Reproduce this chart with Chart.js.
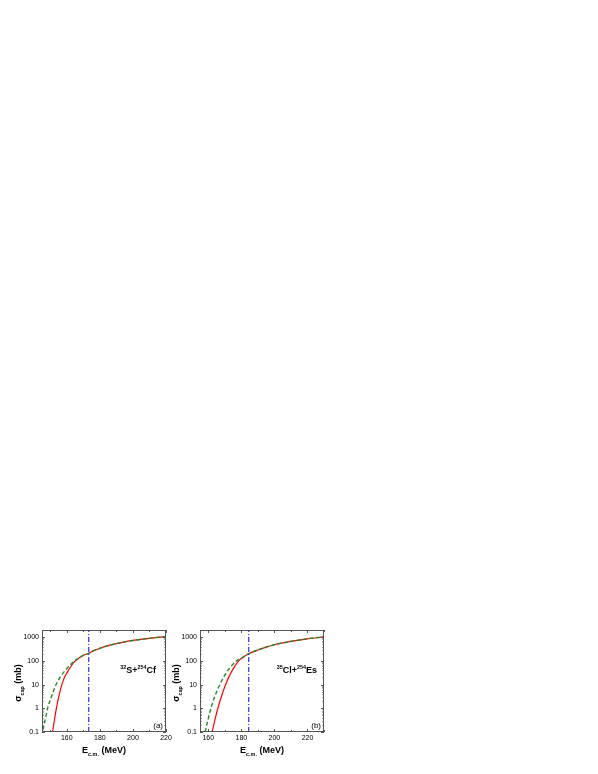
<!DOCTYPE html>
<html>
<head>
  <title>Capture cross sections</title>
  <script src="https://cdn.jsdelivr.net/npm/chart.js"></script>
  <style>
    body { margin: 0; background: #fff; }
    .panel { position: absolute; }
  </style>
</head>
<body>
  <div class="panel" style="left:0px; top:600px;"><canvas id="chartA" width="180" height="174"></canvas></div>
  <div class="panel" style="left:158px; top:600px;"><canvas id="chartB" width="180" height="174"></canvas></div>

  <script>
    // ---- data ----
    // panel (a) 32S+254Cf
    var redEA   = [151.4, 152.5, 153.7, 155.2, 156, 157, 158, 159.2, 161.5, 164, 166, 168, 170, 173.3, 176, 180, 185, 190, 195, 200, 210, 220];
    var redSigA = [0.1, 0.32, 1, 3.2, 5.6, 10, 15.8, 24, 46, 83, 110, 141, 170, 209, 263, 339, 437, 537, 631, 724, 891, 1047];
    var greenEA   = [145.6, 147, 148.4, 150.5, 153.5, 156.5, 160, 164, 166, 168, 170, 173.3, 176, 180, 185, 190, 195, 200, 210, 220];
    var greenSigA = [0.126, 0.35, 1, 2.8, 10, 23, 47, 89, 115, 141, 170, 209, 263, 339, 437, 537, 631, 724, 891, 1047];
    var barrierA = 173.3;

    // panel (b) 35Cl+254Es
    var redEB   = [162.3, 164, 165.8, 168, 170.5, 173, 175.5, 178, 180, 182, 184.5, 190, 195, 200, 210, 220, 230];
    var redSigB = [0.1, 0.32, 1, 3.2, 10, 25, 52, 93, 126, 158, 200, 288, 380, 479, 661, 851, 1023];
    var greenEB   = [158.1, 159.8, 161.6, 164, 167, 170, 173, 176.4, 178, 180, 182, 184.5, 190, 195, 200, 210, 220, 230];
    var greenSigB = [0.1, 0.32, 1, 3.2, 10, 25, 50, 91, 110, 126, 158, 200, 288, 380, 479, 661, 851, 1023];
    var barrierB = 184.5;

    var xTicksA = [160, 180, 200, 220];
    var xTicksB = [160, 180, 200, 220];
    var yTicks = [0.1, 1, 10, 100, 1000];
    var yLabels = ['0.1', '1', '10', '100', '1000'];

    var FONT = '"Liberation Sans", Arial, sans-serif';

    function toPoints(xs, ys) {
      return xs.map(function (x, i) { return { x: x, y: ys[i] }; });
    }

    // draw text made of normal / sub / sup pieces
    function richWidth(ctx, parts, size, weight) {
      var w = 0;
      parts.forEach(function (p) {
        var s = p.sub || p.sup ? size * 0.6 : size;
        ctx.font = weight + ' ' + s + 'px ' + FONT;
        w += ctx.measureText(p.t).width;
      });
      return w;
    }
    function drawRich(ctx, parts, x, y, size, weight, align) {
      var w = richWidth(ctx, parts, size, weight);
      var cx = align === 'right' ? x - w : (align === 'center' ? x - w / 2 : x);
      ctx.textBaseline = 'alphabetic';
      ctx.textAlign = 'left';
      parts.forEach(function (p) {
        var s = p.sub || p.sup ? size * 0.6 : size;
        var dy = p.sub ? size * 0.3 : (p.sup ? -size * 0.4 : 0);
        ctx.font = weight + ' ' + s + 'px ' + FONT;
        ctx.fillText(p.t, cx, y + dy);
        cx += ctx.measureText(p.t).width;
      });
    }

    // frame with inward ticks on all four sides + axis titles + labels
    var framePlugin = {
      id: 'framePlugin',
      afterDatasetsDraw: function (chart, args, opts) {
        var ctx = chart.ctx, a = chart.chartArea;
        var xs = chart.scales.x, ys = chart.scales.y;
        ctx.save();
        ctx.strokeStyle = '#555';
        ctx.lineWidth = 1;
        ctx.strokeRect(Math.round(a.left) + 0.5, Math.round(a.top) + 0.5, Math.round(a.width) - 1, Math.round(a.height) - 1);

        ctx.beginPath();
        for (var v = Math.ceil(xs.min / 10) * 10; v <= xs.max; v += 10) {
          var px = Math.round(xs.getPixelForValue(v)) + 0.5;
          var len = v % 20 === 0 ? 3 : 2;
          ctx.moveTo(px, a.bottom); ctx.lineTo(px, a.bottom - len);
          ctx.moveTo(px, a.top); ctx.lineTo(px, a.top + len);
        }
        for (var d = 0.1; d <= 1000; d *= 10) {
          for (var m = 1; m <= 9; m++) {
            var val = d * m;
            if (val < ys.min || val > ys.max) continue;
            var py = Math.round(ys.getPixelForValue(val)) + 0.5;
            var l = m === 1 ? 3 : 1.5;
            ctx.moveTo(a.left, py); ctx.lineTo(a.left + l, py);
            ctx.moveTo(a.right, py); ctx.lineTo(a.right - l, py);
          }
        }
        ctx.stroke();

        ctx.fillStyle = '#000';
        // x title
        drawRich(ctx, [{ t: 'E' }, { t: 'c.m.', sub: true }, { t: ' (MeV)' }], (a.left + a.right) / 2, a.bottom + 21, 9, 'bold', 'center');
        // y title
        ctx.save();
        ctx.translate(a.left - 21, (a.top + a.bottom) / 2 + 2);
        ctx.rotate(-Math.PI / 2);
        drawRich(ctx, [{ t: 'σ' }, { t: 'cap', sub: true }, { t: ' (mb)' }], 0, 0, 9, 'bold', 'center');
        ctx.restore();
        // reaction label
        drawRich(ctx, opts.reaction, a.right - opts.labelInset, a.top + 43, 9, 'bold', 'right');
        // panel tag
        drawRich(ctx, [{ t: opts.tag }], a.right - 3, a.bottom - 4, 8, 'normal', 'right');
        ctx.restore();
      }
    };

    function makeChart(id, redE, redSig, greenE, greenSig, barrier, xMin, xMax, xTicks, reaction, tag, inset) {
      var ctx = document.getElementById(id).getContext('2d');
      return new Chart(ctx, {
        type: 'line',
        data: {
          datasets: [{
            data: toPoints([barrier, barrier], [0.1, 2000]),
            borderColor: '#0000ff',
            borderWidth: 1,
            borderDash: [5, 2, 1, 2],
            pointRadius: 0
          }, {
            data: toPoints(greenE, greenSig),
            borderColor: '#238b23',
            borderWidth: 1.4,
            borderDash: [4, 2.5],
            pointRadius: 0,
            cubicInterpolationMode: 'monotone'
          }, {
            data: toPoints(redE, redSig),
            borderColor: '#ff0000',
            borderWidth: 1.2,
            pointRadius: 0,
            cubicInterpolationMode: 'monotone'
          }]
        },
        options: {
          responsive: false,
          animation: false,
          devicePixelRatio: 1,
          layout: { padding: { top: 30, right: 14, left: 0, bottom: 0 } },
          plugins: {
            legend: { display: false },
            tooltip: { enabled: false },
            framePlugin: { reaction: reaction, tag: tag, labelInset: inset }
          },
          scales: {
            x: {
              type: 'linear',
              min: xMin,
              max: xMax,
              grid: { display: false, drawTicks: false, tickLength: 0 },
              border: { display: false },
              afterBuildTicks: function (scale) {
                scale.ticks = xTicks.map(function (v) { return { value: v }; });
              },
              afterFit: function (scale) { scale.height = 42; },
              ticks: {
                padding: 2,
                maxRotation: 0,
                color: '#000',
                font: { family: FONT, size: 7 }
              }
            },
            y: {
              type: 'logarithmic',
              min: 0.1,
              max: 2000,
              grid: { display: false, drawTicks: false, tickLength: 0 },
              border: { display: false },
              afterBuildTicks: function (scale) {
                scale.ticks = yTicks.map(function (v) { return { value: v }; });
              },
              afterFit: function (scale) { scale.width = 42; },
              ticks: {
                padding: 3,
                color: '#000',
                font: { family: FONT, size: 7 },
                callback: function (value) {
                  var i = yTicks.indexOf(value);
                  return i >= 0 ? yLabels[i] : '';
                }
              }
            }
          }
        },
        plugins: [framePlugin]
      });
    }

    makeChart('chartA', redEA, redSigA, greenEA, greenSigA, barrierA, 145, 220, xTicksA,
      [{ t: '32', sup: true }, { t: 'S+' }, { t: '254', sup: true }, { t: 'Cf' }], '(a)', 10);
    makeChart('chartB', redEB, redSigB, greenEB, greenSigB, barrierB, 155, 230, xTicksB,
      [{ t: '35', sup: true }, { t: 'Cl+' }, { t: '254', sup: true }, { t: 'Es' }], '(b)', 7);
  </script>
</body>
</html>
